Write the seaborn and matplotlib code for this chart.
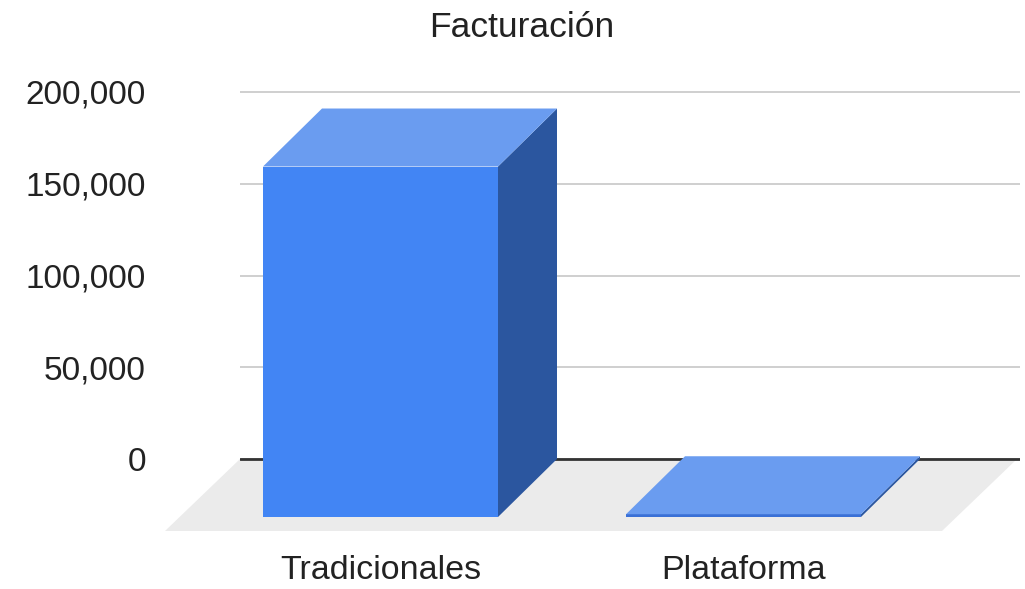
import numpy as np
import matplotlib
matplotlib.use("Agg")
import matplotlib.pyplot as plt
import seaborn as sns
from matplotlib.patches import Polygon

categorias = ["Tradicionales", "Plataforma"]
facturacion = [191000, 1500]
y_ticks = [0, 50000, 100000, 150000, 200000]
titulo = "Facturación"

# layout in pixels of the 1025x589 picture
W, H = 1025, 589
AX_L, AX_R, AX_T, AX_B = 240, 1020, 85, 540
ZERO_Y, TOP_Y = 459, 92          # pixel rows of 0 and 200,000
CAT0_X, CAT_STEP = 439.5, 363    # back centre of first bar, spacing
BAR_W = 235
DX, DY = 59, 58                  # bar depth offset
FDX, FDY, FLOOR_R = 75, 72, 1017  # floor depth offset and back right edge

FRONT = "#4285f4"
TOP = "#6a9cf0"
SIDE = "#2b569f"

sns.set_theme(style="white")
plt.rcParams["font.family"] = ["Liberation Sans", "DejaVu Sans"]

fig = plt.figure(figsize=(W / 100, H / 100), dpi=100)
ax = fig.add_axes([AX_L / W, (H - AX_B) / H, (AX_R - AX_L) / W, (AX_B - AX_T) / H])

px_val = (ZERO_Y - TOP_Y) / max(y_ticks)
ddx = DX / CAT_STEP
ddy = DY / px_val

sns.barplot(x=categorias, y=facturacion, color=FRONT, saturation=1,
            width=BAR_W / CAT_STEP, ax=ax, zorder=3, linewidth=0)

ax.set_xlim(-(CAT0_X - AX_L) / CAT_STEP, (AX_R - CAT0_X) / CAT_STEP)
ax.set_ylim(-(AX_B - ZERO_Y) / px_val, (ZERO_Y - AX_T) / px_val)

# fake 3d: shift front faces forward, add top and side faces
for p in ax.patches[:len(categorias)]:
    x0, w, h = p.get_x(), p.get_width(), p.get_height()
    x1 = x0 + w
    p.set_x(x0 - ddx)
    p.set_y(p.get_y() - ddy)
    if h < 5000:
        p.set_facecolor("#3a70d6")
    top = Polygon([(x0 - ddx, h - ddy), (x1 - ddx, h - ddy), (x1, h), (x0, h)],
                  closed=True, facecolor=TOP, edgecolor="none", zorder=3)
    side = Polygon([(x1 - ddx, -ddy), (x1, 0), (x1, h), (x1 - ddx, h - ddy)],
                   closed=True, facecolor=SIDE, edgecolor="none", zorder=3)
    ax.add_patch(side)
    ax.add_patch(top)
    p.set_clip_on(False)

# floor
bl = ax.get_xlim()[0]
br = (FLOOR_R - CAT0_X) / CAT_STEP
fdx, fdy = FDX / CAT_STEP, FDY / px_val
floor = Polygon([(bl, 0), (br, 0), (br - fdx, -fdy), (bl - fdx, -fdy)],
                closed=True, facecolor="#ebebeb", edgecolor="none",
                zorder=1, clip_on=False)
ax.add_patch(floor)
ax.axhline(0, color="#333333", lw=2, zorder=2)

ax.set_yticks(y_ticks)
ax.set_yticklabels([f"{v:,}" for v in y_ticks])
ax.set_xticks(np.arange(len(categorias)) - ddx)
ax.set_xticklabels(categorias)
ax.grid(axis="y", color="#cccccc", lw=1.3)
ax.grid(axis="x", visible=False)
ax.set_axisbelow(True)
for s in ax.spines.values():
    s.set_visible(False)
ax.tick_params(axis="y", length=0, pad=(AX_L - 146) * 0.72, labelsize=24, labelcolor="#222222")
ax.tick_params(axis="x", length=0, pad=11, labelsize=24.5, labelcolor="#222222")
ax.set_xlabel("")
ax.set_ylabel("")

fig.text(522 / W, 1 - 37 / H, titulo, ha="center", va="baseline",
         fontsize=25.5, color="#222222")

fig.savefig("out.png", dpi=100)
